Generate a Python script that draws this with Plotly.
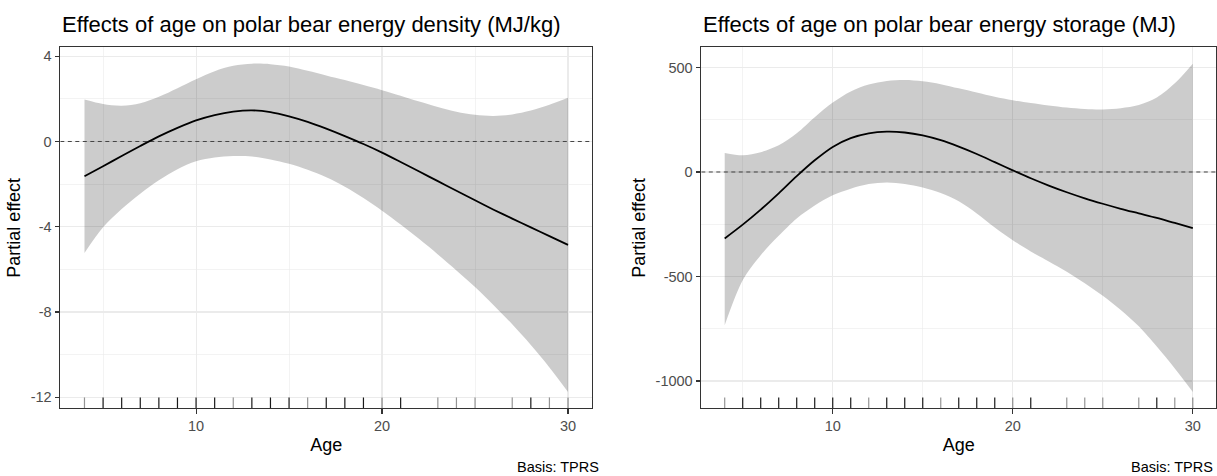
import plotly.graph_objects as go

# ---------------- data ----------------
age = [4, 5, 6, 7, 8, 9, 10, 11, 12, 13, 14, 15, 16, 17, 18, 19, 20,
       21, 22, 23, 24, 25, 26, 27, 28, 29, 30]

density_fit = [-1.63, -1.16, -0.68, -0.21, 0.24, 0.64, 0.99, 1.24, 1.40, 1.46,
               1.38, 1.18, 0.92, 0.60, 0.25, -0.12, -0.52, -0.96, -1.41, -1.86,
               -2.31, -2.76, -3.20, -3.62, -4.03, -4.44, -4.85]
density_lower = [-5.23, -4.03, -3.17, -2.45, -1.82, -1.30, -0.93, -0.75, -0.68, -0.70,
                 -0.84, -1.05, -1.33, -1.68, -2.12, -2.65, -3.25, -3.90, -4.58, -5.30,
                 -6.05, -6.83, -7.68, -8.58, -9.55, -10.60, -11.75]
density_upper = [1.97, 1.76, 1.68, 1.80, 2.10, 2.50, 2.92, 3.30, 3.55, 3.65,
                 3.63, 3.52, 3.32, 3.10, 2.88, 2.65, 2.41, 2.15, 1.88, 1.62,
                 1.40, 1.25, 1.20, 1.27, 1.45, 1.72, 2.05]

storage_fit = [-318, -252, -180, -102, -20, 56, 120, 162, 185, 193,
               189, 175, 152, 121, 86, 47, 8, -30, -65, -97,
               -126, -152, -176, -198, -220, -244, -268]
storage_lower = [-733, -518, -398, -305, -222, -160, -111, -80, -58, -50,
                 -57, -74, -100, -140, -198, -265, -326, -380, -428, -477,
                 -532, -592, -660, -738, -835, -940, -1052]
storage_upper = [91, 80, 95, 128, 185, 262, 332, 385, 418, 435,
                 440, 434, 420, 400, 380, 360, 343, 330, 318, 308,
                 301, 299, 305, 320, 356, 424, 518]

# ages present in the data (rug); n = darker (several observations) or lighter
rug_ages = [4, 5, 6, 7, 8, 9, 10, 11, 12, 13, 14, 15, 16, 17, 18, 19, 20, 21,
            23, 24, 25, 27, 28, 29, 30]
rug_n = [1, 3, 3, 3, 3, 3, 3, 3, 1, 3, 3, 3, 1, 3, 3, 3, 1, 3,
         1, 1, 1, 1, 3, 1, 1]

titles = ["Effects of age on polar bear energy density (MJ/kg)",
          "Effects of age on polar bear energy storage (MJ)"]
x_ticks = [10, 20, 30]
x_minor = [5, 15, 25]
density_ticks = [-12, -8, -4, 0, 4]
density_minor = [-10, -6, -2, 2]
storage_ticks = [-1000, -500, 0, 500]
storage_minor = [-750, -250, 250]
caption = "Basis: TPRS"

# ---------------- layout constants ----------------
W, H = 1217, 476
FONT = "Liberation Sans, Arial, Helvetica, sans-serif"
INK = "#333333"
TICKCOL = "#4D4D4D"
GRID = "#EBEBEB"

panels_x = [(60.3 / W, 592.2 / W), (701.3 / W, 1216.2 / W)]
panel_y = ((H - 408.3) / H, (H - 47.3) / H)


def expand(lo, hi, f=0.05):
    d = (hi - lo) * f
    return [lo - d, hi + d]


fig = go.Figure()

xr = expand(min(age), max(age))
panels = [
    (density_fit, density_lower, density_upper, density_ticks, density_minor),
    (storage_fit, storage_lower, storage_upper, storage_ticks, storage_minor),
]

for i, (fit, lower, upper, yt, ym) in enumerate(panels):
    xa = "x" if i == 0 else "x2"
    ya = "y" if i == 0 else "y2"
    yr = expand(min(lower), max(upper))

    fig.add_trace(go.Scatter(x=age, y=upper, mode="lines",
                             line=dict(width=0, shape="spline", smoothing=0.9,
                                       color="rgba(0,0,0,0)"),
                             hoverinfo="skip", showlegend=False, xaxis=xa, yaxis=ya))
    fig.add_trace(go.Scatter(x=age, y=lower, mode="lines", fill="tonexty",
                             fillcolor="rgba(0,0,0,0.2)",
                             line=dict(width=0, shape="spline", smoothing=0.9,
                                       color="rgba(0,0,0,0)"),
                             hoverinfo="skip", showlegend=False, xaxis=xa, yaxis=ya))

    # dashed zero reference line across the full x range
    fig.add_trace(go.Scatter(x=xr, y=[0, 0], mode="lines",
                             line=dict(color="#444444", width=1, dash="4px,3.5px"),
                             hoverinfo="skip", showlegend=False, xaxis=xa, yaxis=ya))

    fig.add_trace(go.Scatter(x=age, y=fit, mode="lines",
                             line=dict(width=1.8, shape="spline", smoothing=0.9,
                                       color="black"),
                             showlegend=False, xaxis=xa, yaxis=ya))

    # rug along the bottom of the panel (3 % of panel height)
    y0 = yr[0]
    y1 = yr[0] + 0.03 * (yr[1] - yr[0])
    for level, col in [(1, "rgba(0,0,0,0.42)"), (3, "rgba(0,0,0,0.9)")]:
        rx, ry = [], []
        for a, n in zip(rug_ages, rug_n):
            if n == level:
                rx += [a, a, None]
                ry += [y0, y1, None]
        fig.add_trace(go.Scatter(x=rx, y=ry, mode="lines",
                                 line=dict(width=1.2, color=col),
                                 hoverinfo="skip", showlegend=False,
                                 xaxis=xa, yaxis=ya))

    axis_common = dict(
        showline=True, mirror=True, linecolor=INK, linewidth=1.1,
        ticks="outside", ticklen=4.6, tickwidth=1.1, tickcolor=INK,
        tickfont=dict(family=FONT, size=14.5, color=TICKCOL),
        showgrid=True, gridcolor=GRID, gridwidth=1.1, zeroline=False,
        automargin=False,
    )
    xaxis = dict(axis_common, domain=list(panels_x[i]), range=xr, anchor=ya,
                 tickmode="array", tickvals=x_ticks, ticktext=[str(v) for v in x_ticks],
                 minor=dict(tickmode="array", tickvals=x_minor, showgrid=True,
                            gridcolor=GRID, gridwidth=0.6),
                 title=dict(text="Age", font=dict(family=FONT, size=18, color="black"),
                            standoff=5))
    yaxis = dict(axis_common, domain=list(panel_y), range=yr, anchor=xa,
                 tickmode="array", tickvals=yt, ticktext=[str(v) for v in yt],
                 minor=dict(tickmode="array", tickvals=ym, showgrid=True,
                            gridcolor=GRID, gridwidth=0.6),
                 title=dict(text="Partial effect",
                            font=dict(family=FONT, size=18, color="black"),
                            standoff=5))
    if i == 0:
        fig.update_layout(xaxis=xaxis, yaxis=yaxis)
    else:
        fig.update_layout(xaxis2=xaxis, yaxis2=yaxis)

    fig.add_annotation(text=titles[i], xref="paper", x=panels_x[i][0], xanchor="left",
                       yref="paper", y=(H - 24) / H, yanchor="middle", showarrow=False,
                       font=dict(family=FONT, size=22, color="black"))

fig.add_annotation(text=caption, xref="paper", x=601 / W, xanchor="right",
                   yref="paper", y=(H - 467) / H, yanchor="middle", showarrow=False,
                   font=dict(family=FONT, size=14.5, color="black"))
fig.add_annotation(text=caption, xref="paper", x=1215 / W, xanchor="right",
                   yref="paper", y=(H - 467) / H, yanchor="middle", showarrow=False,
                   font=dict(family=FONT, size=14.5, color="black"))

fig.update_layout(width=W, height=H, autosize=False,
                  margin=dict(l=0, r=0, t=0, b=0, pad=0),
                  paper_bgcolor="white", plot_bgcolor="white",
                  font=dict(family=FONT), showlegend=False)

fig.write_html("out.html",
               config={"displayModeBar": False, "staticPlot": True},
               post_script="document.body.style.margin='0px';"
                           "document.body.style.overflow='hidden';")
